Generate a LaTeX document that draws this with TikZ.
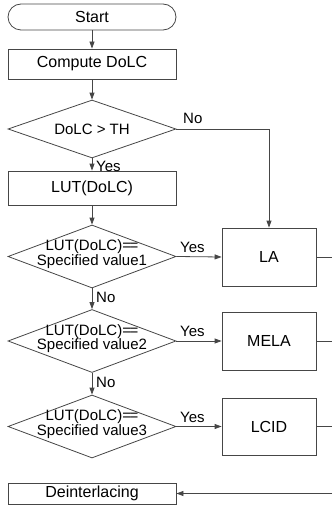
\documentclass[tikz,border=0pt]{standalone}
\usepackage{fontspec}
\setmainfont{Liberation Sans}
\usetikzlibrary{shapes.geometric,arrows.meta}
\definecolor{linecol}{RGB}{70,70,70}
\begin{document}
\begin{tikzpicture}[x=1pt,y=-1pt,
  every node/.style={font=\fontsize{16}{16}\selectfont, text=black},
  box/.style={draw=linecol, line width=0.8pt, minimum width=168pt, inner sep=0pt},
  sidebox/.style={draw=linecol, line width=0.8pt, minimum width=94pt, minimum height=58pt, inner sep=0pt},
  dia/.style={draw=linecol, line width=0.8pt, diamond, minimum width=168pt, inner sep=0pt},
  dtext/.style={align=center, inner sep=0pt, font=\fontsize{15}{14.5}\selectfont},
  lbl/.style={inner sep=0pt, font=\fontsize{15}{15}\selectfont},
  conn/.style={draw=linecol, line width=0.8pt},
  arr/.style={conn, -{Triangle[length=7pt,width=5pt]}}
]
\useasboundingbox (0,0) rectangle (332,505);

\node[box, minimum height=26pt, rounded corners=13pt] (start) at (92,17) {Start};
\node[box, minimum height=30pt] (comp) at (92,64) {Compute DoLC};
\node[dia, minimum height=58pt] (d0) at (92,129) {};
\node[dtext] (d0t) at (92,129) {DoLC > TH};
\node[box, minimum height=34pt] (lut) at (92,188) {LUT(DoLC)};
\node[dia, minimum height=63pt] (d1) at (92,256.5) {};
\node[dtext] (d1t) at (92,254) {LUT(DoLC)=\kern-1.5pt=\\Specified value1};
\node[dia, minimum height=63pt] (d2) at (92,341) {};
\node[dtext] (d2t) at (92,338.5) {LUT(DoLC)=\kern-1.5pt=\\Specified value2};
\node[dia, minimum height=63pt] (d3) at (92,426.5) {};
\node[dtext] (d3t) at (92,424) {LUT(DoLC)=\kern-1.5pt=\\Specified value3};
\node[box, minimum height=21pt] (dein) at (92,493.5) {Deinterlacing};

\node[sidebox] (la) at (269,257) {LA};
\node[sidebox] (mela) at (269,341) {MELA};
\node[sidebox, minimum height=57pt] (lcid) at (269,426.5) {LCID};

\coordinate (r1) at (332,257);
\coordinate (r2) at (332,341);
\coordinate (r3) at (332,426.5);
\coordinate (r4) at (332,493.5);

\draw[arr] (start) -- (comp);
\draw[arr] (comp) -- (d0);
\draw[arr] (d0.east) -| (la.north);
\draw[arr] (d0.south) -- (lut.north);
\draw[arr] (lut.south) -- (d1.north);
\draw[arr] (d1.east) -- (la.west);
\draw[arr] (d1.south) -- (d2.north);
\draw[arr] (d2.east) -- (mela.west);
\draw[arr] (d2.south) -- (d3.north);
\draw[arr] (d3.east) -- (lcid.west);
\draw[conn] (la.east) -- (r1);
\draw[conn] (mela.east) -- (r2);
\draw[conn] (lcid.east) -- (r3);
\draw[arr] (r4) -- (dein.east);

\node[lbl, anchor=west] (no0) at (183,118) {No};
\node[lbl, anchor=west] (yes0) at (96,166) {Yes};
\node[lbl, anchor=west] (yes1) at (180,247) {Yes};
\node[lbl, anchor=west] (no1) at (96,297) {No};
\node[lbl, anchor=west] (yes2) at (180,331) {Yes};
\node[lbl, anchor=west] (no2) at (96,382) {No};
\node[lbl, anchor=west] (yes3) at (180,417) {Yes};
\end{tikzpicture}
\end{document}
